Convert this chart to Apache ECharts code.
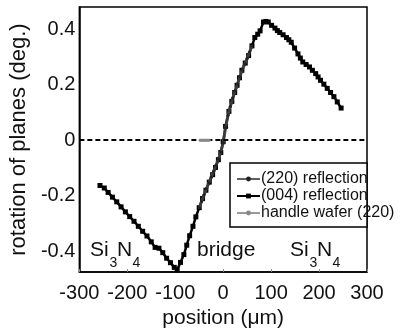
<!DOCTYPE html>
<html><head><meta charset="utf-8">
<script src="https://cdn.jsdelivr.net/npm/echarts@6/dist/echarts.min.js"></script>
<style>html,body{margin:0;padding:0;background:#fff}#c{width:406px;height:334px}</style>
</head><body><div id="c"></div>
<script>
// (004) reflection
const pos004 = [-257,-248,-240,-231,-222,-213,-204,-195,-186,-177,-168,-159,-150,-142,-134,-126,-118,-110,-102,-96,
  -89,-82,-76,-70,-63,-57,-50,-43,-36,-29,-22,-16,-10,-5,0,5,12,18,24,29,34,39,46,53,60,66,72,77,84,89,94,
  101,108,113,118,125,132,137,142,149,156,161,166,173,180,186,193,198,203,210,217,224,231,238,246];
const rot004 = [-0.163,-0.172,-0.188,-0.205,-0.222,-0.240,-0.258,-0.275,-0.292,-0.310,-0.328,-0.345,-0.366,-0.386,-0.389,-0.405,-0.425,-0.441,-0.458,-0.467,
  -0.440,-0.412,-0.378,-0.344,-0.310,-0.276,-0.243,-0.210,-0.180,-0.151,-0.124,-0.098,-0.070,-0.044,-0.005,0.050,0.104,0.140,0.172,0.198,0.225,0.252,0.278,0.305,0.340,0.370,0.382,0.394,0.426,0.428,0.426,
  0.414,0.404,0.395,0.388,0.380,0.370,0.362,0.353,0.332,0.311,0.296,0.282,0.273,0.264,0.252,0.240,0.228,0.216,0.202,0.187,0.172,0.157,0.138,0.116];
// (220) reflection
const pos220 = [-50,-45,-40,-35,-30,-25,-20,-15,-10,-5,0,5,10,15,20,25,30,35,40,45,50,55,60];
const rot220 = [-0.243,-0.220,-0.197,-0.175,-0.153,-0.132,-0.112,-0.090,-0.068,-0.042,-0.010,0.045,0.090,0.122,0.152,0.178,0.203,0.230,0.255,0.275,0.295,0.318,0.340];
// handle wafer (220)
const posHW = [-48,-43,-38,-33,-29];
const rotHW = [0,0,0,0,0];
// ticks
const xTicks = [-300,-200,-100,0,100,200,300];
const yTicks = [-0.4,-0.2,0,0.2,0.4];

const zip = (a,b)=>a.map((v,i)=>[v,b[i]]);
const FONT = 'Liberation Sans, Arial, sans-serif';
const chart = echarts.init(document.getElementById('c'), null, {renderer:'canvas'});
chart.setOption({
  animation:false,
  backgroundColor:'#fff',
  grid:{left:75,right:39,top:7,bottom:58,show:true,borderColor:'#000',borderWidth:1.5,backgroundColor:'transparent'},
  xAxis:{type:'value',min:-300,max:300,interval:100,
    name:'position (\u03bcm)',nameLocation:'middle',nameGap:34,
    nameTextStyle:{fontSize:21,color:'#111',fontFamily:FONT},
    axisLine:{show:true,onZero:false,lineStyle:{color:'#000',width:1.5}},
    axisTick:{show:true,inside:true,length:3,lineStyle:{color:'#888'}},
    axisLabel:{fontSize:20,color:'#111',fontFamily:FONT,margin:11,
      formatter:v=>xTicks.includes(Math.round(v))?String(Math.round(v)):''},
    splitLine:{show:false}},
  yAxis:{type:'value',min:-0.475,max:0.48,interval:0.025,
    name:'rotation of planes (deg.)',nameLocation:'middle',nameGap:42,nameRotate:90,
    nameTextStyle:{fontSize:22,color:'#111',fontFamily:FONT},
    axisLine:{show:true,onZero:false,lineStyle:{color:'#000',width:1.5}},
    axisTick:{show:false},
    axisLabel:{fontSize:20,color:'#111',fontFamily:FONT,margin:4,interval:0,hideOverlap:false,
      formatter:v=>{const t=yTicks.find(k=>Math.abs(k-v)<1e-6);return t===undefined?'':(t===0?'0':t.toFixed(1));}},
    splitLine:{show:false}},
  legend:{orient:'vertical',left:236,top:170.5,padding:0,itemGap:0,itemWidth:23,itemHeight:6,
    textStyle:{fontSize:16,color:'#111',fontFamily:FONT,lineHeight:17,padding:[0,0,0,-4]},z:20,
    data:['(220) reflection','(004) reflection','handle wafer (220)']},
  graphic:[
    {type:'rect',z:4,shape:{x:230,y:163,width:137,height:64},style:{fill:'#fff',stroke:'#000',lineWidth:1.5}},
    {type:'text',z:10,x:90,y:250,style:{text:'Si',font:'21px '+FONT,fill:'#111',verticalAlign:'middle'}},
    {type:'text',z:10,x:109.5,y:263,style:{text:'3',font:'14px '+FONT,fill:'#111',verticalAlign:'middle'}},
    {type:'text',z:10,x:117,y:250,style:{text:'N',font:'21px '+FONT,fill:'#111',verticalAlign:'middle'}},
    {type:'text',z:10,x:132.5,y:263,style:{text:'4',font:'14px '+FONT,fill:'#111',verticalAlign:'middle'}},
    {type:'text',z:10,x:197,y:250,style:{text:'bridge',font:'21px '+FONT,fill:'#111',verticalAlign:'middle'}},
    {type:'text',z:10,x:290,y:250,style:{text:'Si',font:'21px '+FONT,fill:'#111',verticalAlign:'middle'}},
    {type:'text',z:10,x:309.5,y:263,style:{text:'3',font:'14px '+FONT,fill:'#111',verticalAlign:'middle'}},
    {type:'text',z:10,x:317,y:250,style:{text:'N',font:'21px '+FONT,fill:'#111',verticalAlign:'middle'}},
    {type:'text',z:10,x:332.5,y:263,style:{text:'4',font:'14px '+FONT,fill:'#111',verticalAlign:'middle'}}
  ],
  series:[
    {name:'(004) reflection',type:'line',data:zip(pos004,rot004),z:3,
     symbol:'rect',symbolSize:5,showAllSymbol:true,
     lineStyle:{color:'#000',width:2.5},itemStyle:{color:'#000'},
     markLine:{silent:true,symbol:'none',label:{show:false},
       lineStyle:{color:'#000',width:2,type:[5,3]},data:[{yAxis:0}]}},
    {name:'(220) reflection',type:'line',data:zip(pos220,rot220),z:4,
     symbol:'circle',symbolSize:3,showAllSymbol:true,
     lineStyle:{color:'#444',width:3,opacity:0.85},itemStyle:{color:'#222'}},
    {name:'handle wafer (220)',type:'line',data:zip(posHW,rotHW),z:5,
     symbol:'circle',symbolSize:3,showAllSymbol:true,
     lineStyle:{color:'#999',width:3},itemStyle:{color:'#888'}}
  ]
});
</script></body></html>
